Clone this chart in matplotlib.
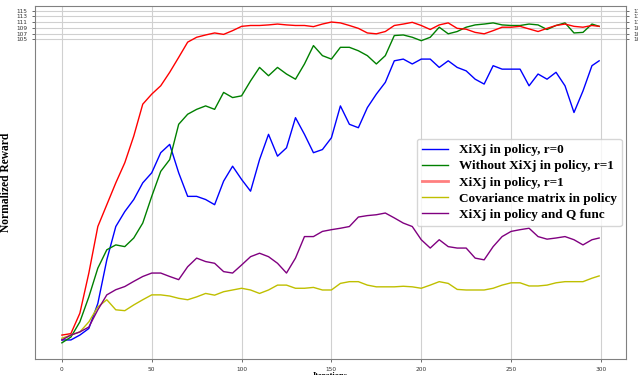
import numpy as np
import matplotlib as mpl
mpl.use('Agg')
import matplotlib.pyplot as plt

iters = list(range(0, 300, 5)) + [299]

r0 = [0.3, 0.3, 2.0, 4.3, 13.0, 28.2, 39.8, 45.0, 49.2, 55.0, 58.5, 65.5, 68.4, 58.5, 50.3,
      50.3, 49.2, 47.4, 55.6, 60.8, 56.2, 52.1, 63.1, 71.9, 64.3, 67.2, 77.7, 71.9, 65.5, 66.6,
      70.7, 81.8, 75.4, 74.2, 81.2, 85.9, 90.0, 97.5, 98.1, 96.4, 98.1, 98.1, 95.2, 97.5, 95.2,
      94.0, 91.1, 89.4, 95.8, 94.6, 94.6, 94.6, 88.8, 92.9, 91.1, 93.5, 88.8, 79.5, 87.0, 95.8,
      97.5]
no_xixj = [-0.7, 1.3, 6.6, 15.3, 25.3, 31.7, 33.4, 32.8, 35.8, 41.0, 50.3, 59.0, 63.1, 75.4, 78.9,
           80.6, 81.8, 80.6, 86.5, 84.7, 85.3, 90.5, 95.2, 92.3, 95.2, 92.9, 91.1, 96.4, 102.8, 99.3,
           98.1, 102.2, 102.2, 101.0, 99.3, 96.4, 99.3, 106.3, 106.5, 105.7, 104.5, 105.7, 109.2, 106.9, 107.7,
           109.2, 110.0, 110.3, 110.7, 110.0, 109.8, 109.8, 110.3, 110.0, 108.4, 109.8, 110.7, 107.2, 107.4, 110.3,
           109.5]
r1 = [2.0, 2.5, 9.6, 23.6, 39.8, 47.4, 55.0, 62.0, 71.3, 82.4, 85.9, 88.8, 93.5, 98.7, 104.0,
      105.7, 106.5, 107.2, 106.7, 108.0, 109.5, 109.8, 109.8, 110.0, 110.3, 110.0, 109.8, 109.8, 109.4, 110.3,
      111.0, 110.7, 109.8, 108.8, 107.2, 106.9, 107.7, 109.8, 110.3, 110.9, 109.8, 108.4, 110.0, 110.7, 108.8,
      108.5, 107.4, 106.9, 108.0, 109.2, 109.2, 109.5, 108.6, 107.7, 108.8, 109.8, 110.3, 109.5, 109.2, 109.8,
      109.5]
cov = [0.9, 2.0, 3.1, 6.6, 11.8, 14.3, 10.8, 10.5, 12.5, 14.3, 16.0, 16.0, 15.6, 14.8, 14.3,
       15.3, 16.5, 15.9, 17.1, 17.7, 18.3, 17.7, 16.5, 17.7, 19.4, 19.4, 18.3, 18.3, 18.6, 17.7,
       17.7, 20.0, 20.6, 20.6, 19.4, 18.8, 18.8, 18.8, 19.0, 18.8, 18.3, 19.4, 20.6, 20.0, 17.9,
       17.7, 17.7, 17.7, 18.3, 19.4, 20.2, 20.2, 19.1, 19.1, 19.4, 20.2, 20.6, 20.6, 20.6, 21.8,
       22.6]
qfunc = [0.3, 2.0, 3.1, 4.8, 10.8, 16.0, 17.8, 18.9, 20.7, 22.4, 23.6, 23.6, 22.4, 21.3, 25.8,
         28.8, 27.6, 27.0, 24.1, 23.6, 26.4, 29.3, 30.5, 29.3, 27.0, 23.6, 28.8, 36.3, 36.3, 38.1,
         38.7, 39.2, 39.8, 43.1, 43.6, 43.9, 44.5, 42.8, 41.0, 39.8, 35.2, 32.3, 35.2, 32.8, 32.3,
         32.3, 28.8, 28.2, 32.8, 36.3, 38.1, 38.7, 39.2, 36.3, 35.4, 35.8, 36.3, 35.2, 33.4, 35.2,
         35.8]

labels = ['XiXj in policy, r=0', 'Without XiXj in policy, r=1', 'XiXj in policy, r=1',
          'Covariance matrix in policy', 'XiXj in policy and Q func']

fig = plt.figure(figsize=(6.38, 3.75), dpi=100)
ax = fig.add_axes([0.0549, 0.043, 0.9263, 0.941])

ax.plot(iters, r0, 'b-', lw=1.0, label=labels[0])
ax.plot(iters, no_xixj, 'g-', lw=1.0, label=labels[1])
ax.plot(iters, r1, 'r-', lw=1.0, label=labels[2])
ax.plot(iters, cov, 'y-', lw=1.0, label=labels[3])
ax.plot(iters, qfunc, '-', color='purple', lw=1.0, label=labels[4])

ax.set_yticks([105, 107, 109, 111, 113, 115])
ax.set_xticks([0, 50, 100, 150, 200, 250, 300])
ax.tick_params(labelsize=4.2, length=2, width=0.5, colors='#333333',
               right=True, labelright=True)
ax.grid(True, color='#d0d0d0', lw=0.8)
for s in ax.spines.values():
    s.set_color('#808080')

serif = {'family': 'Liberation Serif', 'weight': 'bold'}
ax.set_xlabel('Iterations', fontdict=dict(serif, size=6), labelpad=0)
ax.set_ylabel('Normalized Reward', fontdict=dict(serif, size=8.3), labelpad=3)
leg = ax.legend(loc='center right', prop=dict(serif, size=9.5), handlelength=2.0,
                borderaxespad=0.3, labelspacing=0.3)
# red entry is drawn wider and paler in the key
leg.get_lines()[2].set_linewidth(2.0)
leg.get_lines()[2].set_alpha(0.5)

fig.savefig('out.png', dpi=100)
